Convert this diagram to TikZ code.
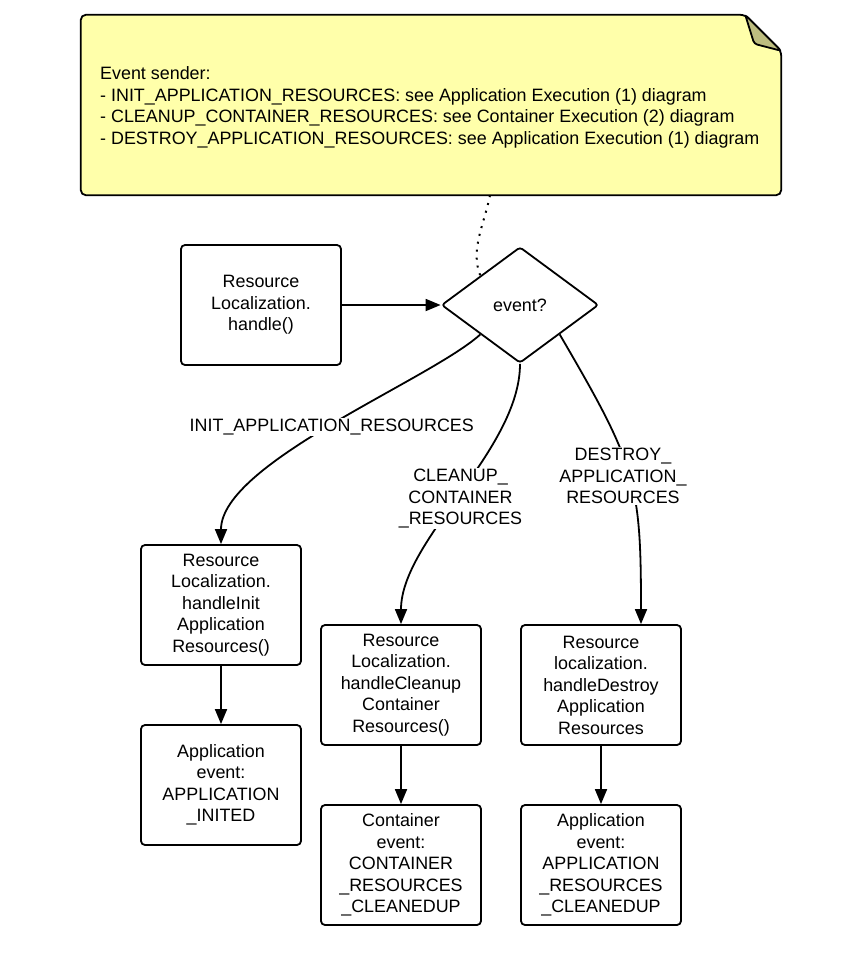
\documentclass[tikz,border=0pt]{standalone}
\usepackage{fontspec}
\setmainfont{Liberation Sans}
\usetikzlibrary{shapes.geometric,arrows.meta,calc}
\definecolor{notefill}{RGB}{255,255,170}
\definecolor{foldfill}{RGB}{189,189,128}
\begin{document}
\begin{tikzpicture}[x=1pt,y=-1pt,
  every node/.style={font=\fontsize{17.9}{21.5}\selectfont},
  box/.style={draw, line width=1.8pt, rounded corners=4pt, minimum width=160pt,
    minimum height=120pt, align=center, inner sep=2pt},
  arr/.style={line width=1.8pt, -{Triangle[length=15pt,width=12pt]}},
  lbl/.style={fill=white, align=center, inner sep=1pt},
  dotline/.style={line width=2pt, dash pattern=on 2pt off 6pt}]
\useasboundingbox (0,0) rectangle (847,953);
% note
\node[minimum width=700pt, minimum height=180pt, inner sep=0pt] (note) at (431,105) {};
\draw[line width=1.8pt, fill=notefill, rounded corners=5pt]
  ([xshift=-36pt]note.north east) -- (note.north west) -- (note.south west)
  -- (note.south east) -- ([yshift=-36pt]note.north east) -- cycle;
\draw[line width=1.8pt, fill=foldfill, rounded corners=3pt]
  ([xshift=-36pt]note.north east) -- ([xshift=-27pt,yshift=-29pt]note.north east)
  -- ([yshift=-36pt]note.north east) -- cycle;
\node[anchor=west, align=left, inner sep=0pt] (notetext) at (100,107.5)
  {Event sender:\\
   - INIT\_APPLICATION\_RESOURCES: see Application Execution (1) diagram\\
   - CLEANUP\_CONTAINER\_RESOURCES: see Container Execution (2) diagram\\
   - DESTROY\_APPLICATION\_RESOURCES: see Application Execution (1) diagram};
% nodes
\node[box] (b1) at (261,305) {Resource\\Localization.\\handle()};
\node[draw, diamond, line width=1.8pt, rounded corners=3pt, minimum width=157pt,
  minimum height=116pt, inner sep=0pt] (d) at (520,305) {event?};
\node[box] (A) at (221,605) {Resource\\Localization.\\handleInit\\Application\\Resources()};
\node[box] (A2) at (221,785) {Application\\event:\\APPLICATION\\\_INITED};
\node[box] (B) at (401,685) {Resource\\Localization.\\handleCleanup\\Container\\Resources()};
\node[box] (B2) at (401,865) {Container\\event:\\CONTAINER\\\_RESOURCES\\\_CLEANEDUP};
\node[box] (C) at (601,685) {Resource\\localization.\\handleDestroy\\Application\\Resources};
\node[box] (C2) at (601,865) {Application\\event:\\APPLICATION\\\_RESOURCES\\\_CLEANEDUP};
% connectors
\draw[dotline] ([xshift=59pt]note.south) .. controls (484,225) and (470,250) .. (d.north west);
\draw[arr] (b1) -- (d.west);
\draw[arr] (d.south west) .. controls (430,380) and (221,463) .. (A.north)
  node[lbl, pos=0.5, yshift=-1pt] {INIT\_APPLICATION\_RESOURCES};
\draw[arr] (d.south) .. controls (520,450) and (401,540) .. (B.north)
  node[lbl, pos=0.5, yshift=-4pt] {CLEANUP\_\\CONTAINER\\\_RESOURCES};
\draw[arr] (d.south east) .. controls (636,465) and (641,482) .. ([xshift=40pt]C.north)
  node[lbl, pos=0.5, xshift=-6pt, yshift=-1pt] {DESTROY\_\\APPLICATION\_\\RESOURCES};
\draw[arr] (A) -- (A2);
\draw[arr] (B) -- (B2);
\draw[arr] (C) -- (C2);
\end{tikzpicture}
\end{document}
